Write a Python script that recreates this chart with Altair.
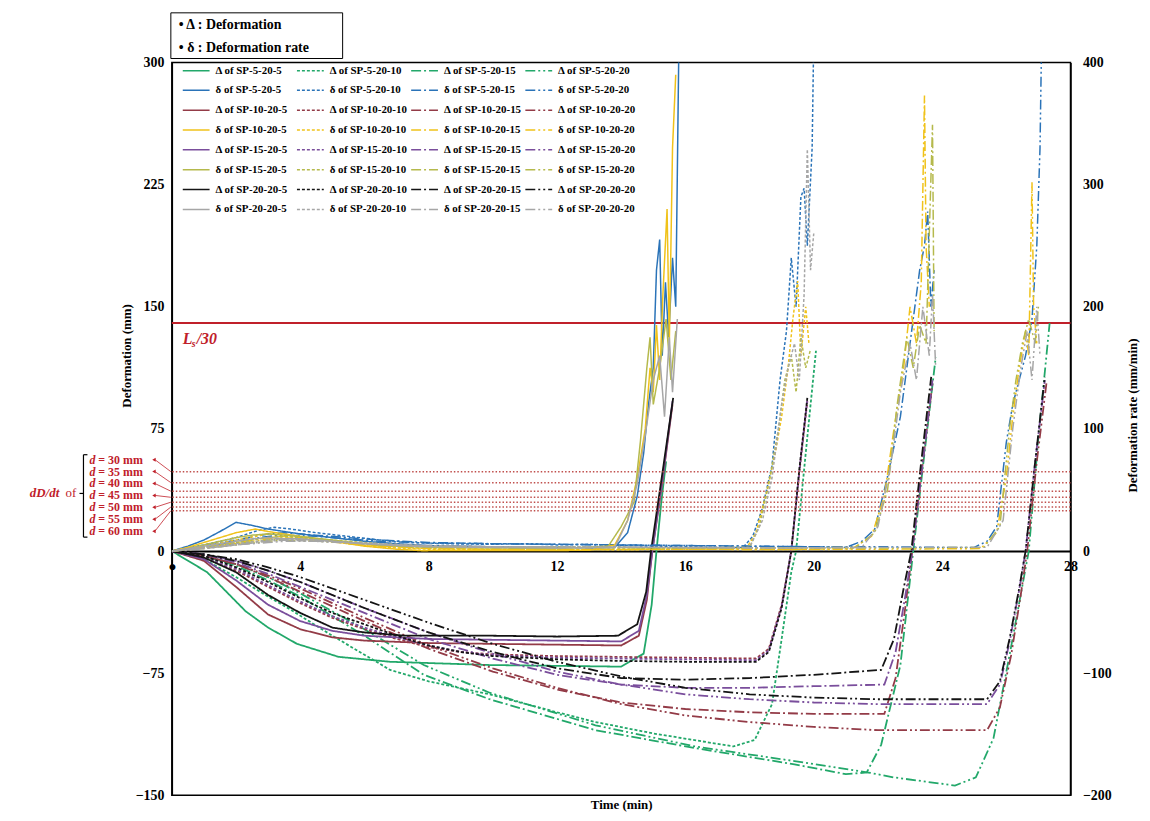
import altair as alt
import pandas as pd

# ---------------- data (time in min, value) ----------------
SPEC_A = ["5", "10", "15", "20"]      # SP-a-20-b : colour group
SPEC_B = ["5", "10", "15", "20"]      # line style group

# Deformation  (mm, left axis)
D_5_5 = [(0,0),(1.1,-13),(1.7,-25),(2.3,-37),(3.0,-47),(3.9,-57),(5.2,-65),(6.8,-68),(9.9,-70),(12,-70.5),(14.0,-71),(14.7,-63),(14.95,-33),(15.1,0),(15.25,30),(15.4,55)]
D_10_5 = [(0,0),(1,-6),(2,-22),(3,-39),(4,-48),(5,-53),(6,-55),(8,-56.5),(10,-57),(12,-57.5),(14,-58),(14.55,-52),(14.8,-30),(14.97,0),(15.3,45),(15.6,90)]
D_15_5 = [(0,0),(1,-5),(2,-18),(3,-33),(4,-43),(5,-49),(6,-52),(8,-54),(10,-54.5),(12,-55),(14,-55.5),(14.55,-49),(14.8,-27),(14.97,0),(15.3,46),(15.6,92)]
D_20_5 = [(0,0),(1,-4),(2,-13),(3,-27),(4,-38),(5,-47),(6,-50),(7.3,-52),(10,-52),(12,-52.5),(13.9,-52),(14.5,-45),(14.78,-25),(14.93,0),(15.3,50),(15.62,94)]

D_5_10 = [(0,0),(1,-5),(2,-16),(3,-28),(3.7,-36),(5,-52),(6.8,-73),(8,-80),(9.9,-88),(12,-99),(13.2,-105),(15,-112),(17.5,-120),(18.16,-116),(18.7,-94),(19.0,-54),(19.3,-13),(19.45,0),(19.8,70),(20.07,123)]
D_10_10 = [(0,0),(1,-4),(2,-12),(3,-22),(4,-32),(5,-41),(6,-48),(7,-54),(8,-59),(9,-62),(10,-63.5),(12,-64.5),(14,-65),(16,-65.5),(18.2,-66),(18.6,-60),(19.0,-33),(19.3,0),(19.55,48),(19.8,92)]
D_15_10 = [(0,0),(1,-4),(2,-11),(3,-21),(4,-31),(5,-40),(6,-47),(7,-53),(8,-58),(9,-62),(10,-64),(12,-65.5),(14,-66),(16,-66.5),(18.2,-67),(18.6,-61),(19.0,-34),(19.3,0),(19.55,49),(19.8,93)]
D_20_10 = [(0,0),(1,-3),(2,-10),(3,-19),(4,-29),(5,-38),(6,-45),(7,-52),(8,-58),(9,-62),(10,-64.5),(12,-66.5),(14,-67.5),(16,-68),(18.2,-68),(18.6,-62),(19.0,-35),(19.3,0),(19.55,50),(19.8,94)]

D_5_15 = [(0,0),(1,-3),(2,-9),(3,-18),(4,-28),(5,-40),(6,-52),(7.85,-76),(9.9,-91),(13.2,-110),(16.3,-121),(19.4,-131),(21.0,-137),(21.65,-136),(22.1,-119),(22.7,-70),(23.1,0),(23.45,60),(23.8,119)]
D_10_15 = [(0,0),(1,-3),(2,-8),(3,-16),(4,-25),(5,-34),(6,-43),(8,-60),(10,-74),(12,-85),(14,-93),(16,-97),(18,-99),(20,-100),(22.2,-100),(22.55,-78),(22.85,-35),(23.07,0),(23.4,55),(23.7,103)]
D_15_15 = [(0,0),(1,-2),(2,-7),(3,-14),(4,-22),(5,-30),(6,-38),(8,-54),(10,-66),(12,-76),(14,-82),(16,-84),(18,-84),(20,-83),(22.2,-82),(22.55,-62),(22.85,-28),(23.07,0),(23.4,55),(23.7,105)]
D_20_15 = [(0,0),(1,-2),(2,-6),(3,-12),(4,-19),(5,-27),(6,-35),(8,-50),(10,-62),(12,-72),(14,-78),(16,-79),(18,-78),(20,-76),(22.1,-73),(22.5,-54),(22.8,-23),(23.04,0),(23.35,55),(23.66,107)]

D_5_20 = [(0,0),(1,-3),(2,-8),(3,-16),(4,-26),(5,-37),(6,-48),(7.85,-70),(9.9,-87),(13.2,-107),(16.3,-120),(19.4,-129),(21.7,-136),(22.5,-139),(24.4,-144),(25.05,-139),(25.6,-115),(26.1,-64),(26.7,0),(27.0,70),(27.35,140)]
D_10_20 = [(0,0),(1,-3),(2,-8),(3,-15),(4,-23),(5,-32),(6,-41),(8,-58),(10,-72),(12,-84),(14,-94),(16,-101),(18,-105),(20,-108),(22,-110),(24,-110),(25.4,-110),(25.8,-96),(26.15,-64),(26.45,-27),(26.65,0),(26.95,55),(27.25,103)]
D_15_20 = [(0,0),(1,-2),(2,-6),(3,-12),(4,-19),(5,-27),(6,-35),(8,-50),(10,-63),(12,-74),(14,-82),(16,-88),(18,-91),(20,-93),(22,-94),(24,-94),(25.4,-94),(25.8,-82),(26.1,-56),(26.4,-24),(26.6,0),(26.9,55),(27.2,105)]
D_20_20 = [(0,0),(1,-2),(2,-5),(3,-10),(4,-16),(5,-23),(6,-30),(8,-44),(10,-57),(12,-68),(14,-77),(16,-84),(18,-88),(20,-90),(22,-91),(24,-91),(25.4,-91),(25.8,-80),(26.1,-54),(26.4,-23),(26.6,0),(26.9,55),(27.2,107)]

# Deformation rate (mm/min, right axis)
R_5_5 = [(0,0),(0.5,4),(1,9),(1.5,16),(2,23.5),(2.5,21),(3,18),(4,14),(5,11),(6,8),(7,6),(8,4.5),(9,4),(10,3.5),(11,3),(12,3.2),(13,2.5),(13.8,3),(14.2,15),(14.5,45),(14.7,80),(14.85,120),(15.0,150),(15.1,230),(15.2,255),(15.28,160),(15.38,220),(15.48,175),(15.6,240),(15.7,200),(15.8,420)]
R_10_5 = [(0,0),(0.5,3),(1,7),(1.5,11),(2,15),(2.6,18),(3,16),(3.5,14),(4,12),(5,8),(6,4),(7,1.5),(7.8,0.3),(9,0.5),(11,0.4),(13,0.6),(13.8,5),(14.2,25),(14.5,60),(14.75,100),(14.9,150),(15.0,130),(15.1,185),(15.2,140),(15.3,210),(15.43,280),(15.5,170),(15.6,330),(15.7,390)]
R_15_5 = [(0,0),(0.5,2),(1,5),(1.5,8),(2,11),(2.5,13),(3,14),(3.5,13),(4,12),(5,9),(6,6),(7,4),(8,3),(10,2.5),(12,2),(13.6,4),(14.0,20),(14.4,40),(14.6,90),(14.8,150),(14.9,175),(15.0,120),(15.2,150),(15.4,190),(15.55,140),(15.7,180)]
R_20_5 = [(0,0),(0.5,2),(1,4),(1.5,6),(2,8),(2.5,10),(3,11),(3.5,10),(4,10),(5,8),(6,6),(7,4.5),(8,3.5),(10,3),(12,2.5),(13.8,3),(14.2,25),(14.5,55),(14.75,95),(15.0,140),(15.2,160),(15.35,110),(15.5,175),(15.6,130),(15.75,190)]

R_5_10 = [(0,0),(1,5),(2,11),(2.7,17),(3.2,19.5),(3.7,18),(4.5,15),(5.5,12),(6.5,9),(7.5,7),(8.5,6),(10,5.5),(11,6),(12,5),(13,5.5),(14,4.5),(15,4),(16,3.5),(17,3),(17.8,3),(18.1,12),(18.4,35),(18.7,70),(18.95,140),(19.15,180),(19.3,240),(19.45,200),(19.6,290),(19.7,297),(19.8,250),(19.95,330),(20.0,420)]
R_10_10 = [(0,0),(1,4),(2,9),(3,14),(3.5,13),(4.5,10),(5.5,6),(6.5,3),(8,1.5),(10,1),(12,1.2),(14,1),(16,1.5),(17.9,2),(18.2,15),(18.5,45),(18.8,80),(19.0,110),(19.2,150),(19.35,190),(19.5,221),(19.6,160),(19.75,200),(19.85,170)]
R_15_10 = [(0,0),(1,3),(2,7),(3,11),(3.5,12),(4.5,10),(5.5,8),(6.5,6),(8,4),(10,3),(12,3.5),(14,2.5),(16,2.5),(18.0,3),(18.3,20),(18.6,55),(18.9,100),(19.1,140),(19.3,160),(19.45,130),(19.6,175),(19.75,150),(19.9,165)]
R_20_10 = [(0,0),(1,3),(2,6),(3,9),(3.5,10),(4.5,9),(5.5,7),(6.5,6),(8,4.5),(10,3.5),(12,3),(14,3.5),(16,2.5),(18.0,3),(18.4,25),(18.7,60),(19.0,120),(19.2,150),(19.4,170),(19.55,140),(19.7,210),(19.8,329),(19.9,230),(20.0,260)]

R_5_15 = [(0,0),(1,4),(2,9),(3,14),(3.5,15),(4.5,13),(5.5,11),(6.5,9),(8,7),(10,6),(12,5.5),(14,5),(16,4.5),(18,4),(20,3.5),(21.0,3),(21.5,8),(21.9,18),(22.3,61),(22.7,110),(22.9,150),(23.1,190),(23.3,230),(23.45,250),(23.55,278),(23.65,200),(23.75,230)]
R_10_15 = [(0,0),(1,3),(2,7),(3,11),(3.5,12),(4.5,10),(5.5,7),(6.5,4),(8,2),(10,1.5),(13,1.2),(16,1.5),(19,1.2),(21.2,2),(21.8,12),(22.2,45),(22.5,100),(22.8,150),(23.0,200),(23.2,170),(23.35,220),(23.45,373),(23.5,250),(23.6,200)]
R_15_15 = [(0,0),(1,3),(2,6),(3,9),(3.5,10),(4.5,9),(5.5,7),(6.5,5),(8,4),(10,3),(13,3),(16,2.5),(19,2.5),(21.3,3),(21.9,15),(22.3,50),(22.6,120),(22.9,175),(23.1,150),(23.3,185),(23.5,170),(23.7,349),(23.75,180)]
R_20_15 = [(0,0),(1,2),(2,5),(3,8),(3.5,9),(4.5,8),(5.5,7),(6.5,5.5),(8,4),(10,3.5),(13,3),(16,3),(19,2.5),(21.5,3),(22.0,20),(22.4,70),(22.7,130),(23.0,170),(23.2,140),(23.4,200),(23.6,160),(23.7,210),(23.8,150)]

R_5_20 = [(0,0),(1,3),(2,8),(3,12),(3.5,13),(4.5,12),(5.5,10),(6.5,8),(8,6.5),(10,6),(12,5.5),(14,5),(16,4.5),(18,4),(20,3.5),(22,3.5),(24,3),(25.0,3),(25.4,8),(25.7,20),(26.0,89),(26.2,120),(26.4,140),(26.6,160),(26.8,190),(26.95,250),(27.05,330),(27.1,420)]
R_10_20 = [(0,0),(1,3),(2,6),(3,10),(3.5,11),(4.5,9),(5.5,6),(6.5,4),(8,2),(10,1.5),(13,1.2),(16,1.5),(19,1.2),(22,1.5),(25.2,2),(25.7,15),(26.0,60),(26.2,110),(26.4,150),(26.6,180),(26.7,160),(26.8,302),(26.85,200),(26.95,170)]
R_15_20 = [(0,0),(1,2),(2,5),(3,8),(3.5,9),(4.5,8),(5.5,7),(6.5,5),(8,4),(10,3),(13,3),(16,2.5),(19,2.5),(22,2.5),(25.3,3),(25.8,20),(26.1,100),(26.3,140),(26.5,170),(26.7,190),(26.9,170),(27.0,200)]
R_20_20 = [(0,0),(1,2),(2,5),(3,7),(3.5,8),(4.5,8),(5.5,6.5),(6.5,5.5),(8,4),(10,3.5),(13,3),(16,3),(19,2.5),(22,3),(25.4,3),(25.9,25),(26.2,100),(26.45,150),(26.65,180),(26.8,140),(26.95,200),(27.05,160)]

DEFORM = {
    ("5","5"): D_5_5, ("10","5"): D_10_5, ("15","5"): D_15_5, ("20","5"): D_20_5,
    ("5","10"): D_5_10, ("10","10"): D_10_10, ("15","10"): D_15_10, ("20","10"): D_20_10,
    ("5","15"): D_5_15, ("10","15"): D_10_15, ("15","15"): D_15_15, ("20","15"): D_20_15,
    ("5","20"): D_5_20, ("10","20"): D_10_20, ("15","20"): D_15_20, ("20","20"): D_20_20,
}
RATE = {
    ("5","5"): R_5_5, ("10","5"): R_10_5, ("15","5"): R_15_5, ("20","5"): R_20_5,
    ("5","10"): R_5_10, ("10","10"): R_10_10, ("15","10"): R_15_10, ("20","10"): R_20_10,
    ("5","15"): R_5_15, ("10","15"): R_10_15, ("15","15"): R_15_15, ("20","15"): R_20_15,
    ("5","20"): R_5_20, ("10","20"): R_10_20, ("15","20"): R_15_20, ("20","20"): R_20_20,
}

LS30 = [140]                                  # Ls/30 (mm)
RATE_LIMITS = [65, 56, 49, 44, 40, 36, 33]    # dD/dt for d = 30..60 mm
D_LABELS = ["30", "35", "40", "45", "50", "55", "60"]

# ---------------- styles ----------------
D_COL = {"5": "#22A86A", "10": "#933B47", "15": "#7A4E9C", "20": "#141414"}
R_COL = {"5": "#2A73B8", "10": "#F0C21A", "15": "#B5B94C", "20": "#A6A6A6"}
DASH = {"5": [1, 0], "10": [3, 2], "15": [10, 3, 2, 3], "20": [10, 3, 2, 3, 2, 3]}
FONT = "Liberation Serif"
RED = "#C0202A"

order, colors, dashes = [], [], []
rows_d, rows_r = [], []
for a in SPEC_A:
    for kind, cmap in (("Δ", D_COL), ("δ", R_COL)):
        for b in SPEC_B:
            name = f"{kind} of SP-{a}-20-{b}"
            order.append(name)
            colors.append(cmap[a])
            dashes.append(DASH[b])
            if kind == "Δ":
                for t, v in DEFORM[(a, b)]:
                    rows_d.append({"s": name, "t": t, "v": v})
            else:
                for t, v in RATE[(a, b)]:
                    rows_r.append({"s": name, "t": t, "r": v})
df_d = pd.DataFrame(rows_d)
df_r = pd.DataFrame(rows_r)

legend = alt.Legend(title=None, orient="none", legendX=19, legendY=2.5, columns=4,
                    direction="horizontal", values=order, symbolLimit=50,
                    symbolType="M-9,0L9,0", symbolSize=9, symbolStrokeWidth=1.5,
                    labelFont=FONT, labelFontSize=11, labelFontWeight="bold", labelColor="#000",
                    labelOffset=14, rowPadding=8, columnPadding=0, labelLimit=300,
                    gridAlign="all", padding=0)
color_enc = alt.Color("s:N", scale=alt.Scale(domain=order, range=colors), legend=legend)
dash_enc = alt.StrokeDash("s:N", scale=alt.Scale(domain=order, range=dashes), legend=legend)


def xenc():
    return alt.X("t:Q", scale=alt.Scale(domain=[0, 28], nice=False, zero=False),
                 axis=alt.Axis(values=list(range(0, 29, 4)), title="Time (min)", offset=-246,
                               ticks=False, grid=False, domainWidth=2, domainColor="#000",
                               labelFontSize=14, labelPadding=9, labelFlush=False,
                               labelExpr="datum.value == 0 ? '●' : datum.label",
                               titleY=249, titleFontSize=13))


def yL():
    return alt.Y("v:Q", scale=alt.Scale(domain=[-150, 300], nice=False, zero=False),
                 axis=alt.Axis(values=[-150, -75, 0, 75, 150, 225, 300], title="Deformation (mm)",
                               orient="left", grid=False, ticks=False, domainColor="#000",
                               domainWidth=1.5, labelFontSize=14, labelPadding=8, labelFlush=False,
                               titleFontSize=13, titleX=-46, titleY=295, titleAngle=270,
                               titleAlign="center", titleBaseline="middle"))


def yR():
    return alt.Y("r:Q", scale=alt.Scale(domain=[-200, 400], nice=False, zero=False),
                 axis=alt.Axis(values=[-200, -100, 0, 100, 200, 300, 400],
                               title="Deformation rate (mm/min)", orient="right", grid=False,
                               ticks=False, domainColor="#000", domainWidth=1.5,
                               labelFontSize=14, labelPadding=12, labelFlush=False,
                               titleFontSize=13, titleX=62, titleY=355, titleAngle=270,
                               titleAlign="center", titleBaseline="middle"))


ls_rule = alt.Chart(pd.DataFrame({"v": LS30})).mark_rule(color=RED, strokeWidth=2).encode(y=yL())
d_lines = alt.Chart(df_d).mark_line(clip=True, strokeWidth=1.8).encode(
    x=xenc(), y=yL(), color=color_enc, strokeDash=dash_enc)
left = alt.layer(ls_rule, d_lines)

r_rules = alt.Chart(pd.DataFrame({"r": RATE_LIMITS})).mark_rule(
    color="#C0504D", strokeWidth=1.5, strokeDash=[1.5, 2]).encode(y=yR())
r_lines = alt.Chart(df_r).mark_line(clip=True, strokeWidth=1.5).encode(
    x=xenc(), y=yR(), color=color_enc, strokeDash=dash_enc)
right = alt.layer(r_rules, r_lines)

one = pd.DataFrame({"k": [0]})
OX, OY = 173, 60   # plot origin on the page


def txt(s, px, py, size=14, color="#000", style="normal", weight="bold", align="left"):
    return alt.Chart(one).mark_text(text=s, font=FONT, fontSize=size, color=color,
                                    fontStyle=style, fontWeight=weight, align=align,
                                    baseline="middle").encode(
        x=alt.value(px - OX), y=alt.value(py - OY))


def seg(x1, y1, x2, y2, color="#000", w=1.0):
    return alt.Chart(one).mark_rule(color=color, strokeWidth=w).encode(
        x=alt.value(x1 - OX), x2=alt.value(x2 - OX), y=alt.value(y1 - OY), y2=alt.value(y2 - OY))


ann = []
# top key box
ann.append(alt.Chart(one).mark_rect(fill="white", stroke="#000", strokeWidth=1).encode(
    x=alt.value(-1), x2=alt.value(172), y=alt.value(-50), y2=alt.value(-4)))
ann.append(txt("•  Δ : Deformation", 180, 22, size=14))
ann.append(txt("•  δ : Deformation rate", 180, 45, size=14))
# Ls/30 label
ann.append(txt("L", 184, 338, size=16, color=RED, style="italic"))
ann.append(txt("s", 193, 344, size=10, color=RED, style="italic"))
ann.append(txt("/30", 198, 338, size=16, color=RED, style="italic"))
# dD/dt annotation
ann.append(txt("dD/dt", 30, 494, size=13, color=RED, style="italic"))
ann.append(txt("of", 66, 494, size=13, color=RED, weight="normal"))
ann.append(seg(80, 494, 84, 494, color="#000", w=1.2))
ann.append(seg(84, 455, 84, 538, color="#000", w=1.2))
ann.append(seg(84, 455, 88, 455, color="#000", w=1.2))
ann.append(seg(84, 538, 88, 538, color="#000", w=1.2))
for i, lab in enumerate(D_LABELS):
    ly = 460 + 12 * i
    ann.append(txt("d", 90, ly, size=12, color=RED, style="italic"))
    ann.append(txt(f"= {lab} mm", 99, ly, size=12, color=RED))
    ty = 552 - RATE_LIMITS[i] * 738 / 600
    ann.append(seg(156, ly, 172, ty, color=RED, w=0.8))
    ann.append(alt.Chart(one).mark_point(shape="triangle-left", filled=True, color=RED,
                                         size=16, opacity=1).encode(
        x=alt.value(155 - OX), y=alt.value(ly - OY)))

chart = alt.layer(left, right, *ann).resolve_scale(y="independent").properties(
    width=905, height=738,
    autosize=alt.AutoSizeParams(type="none"),
    padding={"left": 165, "top": 52, "right": 72, "bottom": 23},
).configure_view(stroke="#000", strokeWidth=1.5).configure_axis(
    labelFont=FONT, titleFont=FONT, labelFontWeight="bold", titleFontWeight="bold",
    labelColor="#000", titleColor="#000")

chart.save("out.html", embed_options={"renderer": "svg", "actions": False})
